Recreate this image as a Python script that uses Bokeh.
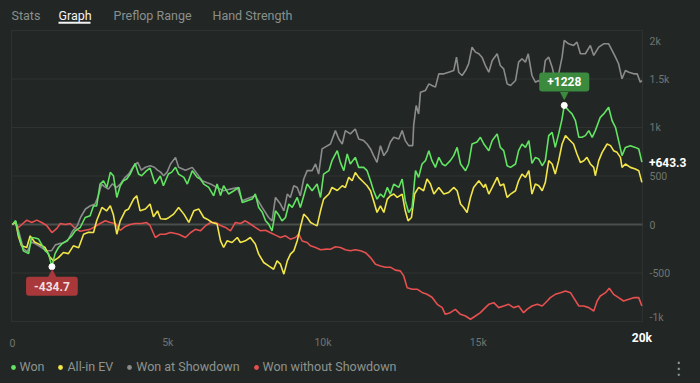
import numpy as np
from bokeh.plotting import figure
from bokeh.models import (Range1d, Label, Legend, LegendItem, BoxAnnotation, ColumnDataSource)
from bokeh.embed import file_html
from bokeh.resources import INLINE

# ---------------- data ----------------
tabs = ["Stats", "Graph", "Preflop Range", "Hand Strength"]
active_tab = "Graph"
series_names = ["Won", "All-in EV", "Won at Showdown", "Won without Showdown"]

y_ticks = [-1000, -500, 0, 500, 1000, 1500, 2000]
y_tick_labels = ["-1k", "-500", "0", "500", "1k", "1.5k", "2k"]
x_ticks = [0, 5000, 10000, 15000]
x_tick_labels = ["0", "5k", "10k", "15k"]
x_end_label = "20k"

won_hands = [0, 100, 190, 350, 520, 610, 730, 840, 930, 1050,
             1160, 1270, 1370, 1480, 1590, 1750, 1910, 2020, 2180, 2340,
             2500, 2610, 2710, 2820, 2930, 3040, 3150, 3250, 3360, 3470,
             3570, 3680, 3790, 3950, 4060, 4160, 4320, 4430, 4590, 4760,
             4860, 5020, 5130, 5250, 5350, 5520, 5630, 5790, 5950, 6050,
             6160, 6320, 6480, 6590, 6700, 6800, 6960, 7130, 7290, 7400,
             7560, 7720, 7820, 7930, 8040, 8150, 8250, 8360, 8470, 8570,
             8680, 8790, 8900, 9010, 9170, 9270, 9380, 9490, 9650, 9810,
             9920, 10020, 10190, 10290, 10460, 10560, 10670, 10780, 10880, 11040,
             11150, 11310, 11420, 11530, 11630, 11740, 11850, 11960, 12070, 12170,
             12280, 12440, 12550, 12650, 12760, 12870, 12980, 13080, 13190, 13300,
             13410, 13510, 13620, 13730, 13840, 13940, 14100, 14210, 14320, 14430,
             14590, 14690, 14800, 14960, 15070, 15180, 15340, 15450, 15610, 15710,
             15820, 15930, 16040, 16200, 16300, 16410, 16520, 16630, 16730, 16840,
             16950, 17060, 17160, 17270, 17380, 17480, 17590, 17700, 17770, 17910,
             18020, 18130, 18240, 18340, 18450, 18560, 18670, 18770, 18930, 19040,
             19200, 19310, 19420, 19520, 19630, 19740, 19900, 20060, 20170, 20270]
won_vals = [0, 40, -96, -272, -300, -134, -140, -150, -200, -270,
            -300, -434.7, -300, -237, -200, -168, -117, -65, -31, 72,
            90, 193, 190, 417, 451, 382, 537, 503, 279, 400,
            451, 469, 520, 630, 520, 503, 555, 580, 420, 500,
            400, 520, 540, 589, 520, 486, 417, 555, 486, 469,
            417, 382, 296, 417, 300, 400, 314, 348, 382, 227,
            245, 262, 314, 176, 130, 38, 4, -65, 141, 100,
            38, 70, 211, 176, 279, 176, 296, 417, 348, 417,
            279, 520, 555, 658, 761, 640, 555, 727, 624, 692,
            589, 589, 555, 451, 348, 262, 314, 280, 382, 314,
            417, 382, 469, 245, 124, 176, 555, 486, 624, 658,
            761, 658, 589, 692, 624, 606, 658, 710, 795, 624,
            555, 624, 830, 850, 899, 830, 760, 865, 934, 795,
            761, 606, 589, 624, 761, 830, 795, 865, 630, 692,
            675, 606, 658, 916, 950, 795, 934, 1089, 1228, 1175,
            1140, 1071, 899, 899, 916, 968, 899, 968, 1105, 1140,
            1209, 1071, 1002, 865, 710, 795, 812, 795, 778, 643.3]

ev_hands = [0, 100, 190, 290, 460, 570, 710, 840, 1050, 1190,
            1320, 1480, 1640, 1800, 1960, 2130, 2290, 2450, 2610, 2710,
            2880, 3030, 3150, 3250, 3360, 3470, 3630, 3740, 3900, 4000,
            4110, 4280, 4430, 4540, 4670, 4770, 4930, 5030, 5190, 5350,
            5520, 5680, 5840, 6000, 6160, 6270, 6430, 6590, 6700, 6800,
            6910, 7070, 7240, 7340, 7500, 7660, 7820, 7930, 8090, 8250,
            8410, 8520, 8630, 8740, 8850, 8950, 9060, 9170, 9270, 9380,
            9490, 9600, 9700, 9810, 9920, 10020, 10190, 10290, 10460, 10620,
            10720, 10830, 10940, 11040, 11150, 11260, 11420, 11530, 11630, 11740,
            11850, 11960, 12070, 12170, 12280, 12390, 12550, 12650, 12740, 12850,
            12950, 13080, 13240, 13350, 13460, 13570, 13730, 13890, 14050, 14210,
            14320, 14430, 14530, 14640, 14750, 14850, 15020, 15180, 15230, 15340,
            15450, 15610, 15710, 15820, 15930, 16040, 16200, 16300, 16410, 16520,
            16630, 16730, 16840, 16950, 17060, 17160, 17270, 17380, 17480, 17590,
            17700, 17810, 17910, 18070, 18180, 18290, 18400, 18500, 18610, 18720,
            18770, 18880, 18990, 19150, 19260, 19360, 19470, 19580, 19630, 19740,
            19900, 20060, 20170, 20270]
ev_vals = [0, 30, -120, -220, -237, -117, -180, -200, -237, -330,
           -375, -341, -289, -300, -220, -240, -100, -80, -83, 38,
           176, 140, 193, 100, -100, 38, 141, 160, 262, 296,
           141, 160, 211, 80, 140, 60, 55, 70, 107, 176,
           107, 21, 141, 159, 72, 55, 21, 4, -168, -237,
           -168, -186, -134, -186, -168, -134, -200, -306, -392, -427,
           -461, -375, -409, -512, -375, -306, -272, -168, -31, 107,
           72, 21, 4, -14, 141, 262, 314, 382, 350, 400,
           382, 486, 451, 537, 486, 451, 400, 348, 245, 124,
           193, 124, 262, 296, 314, 279, 314, 141, 38, 72,
           314, 382, 348, 469, 417, 314, 382, 314, 331, 382,
           348, 211, 176, 124, 279, 382, 451, 382, 417, 314,
           382, 486, 400, 417, 279, 314, 348, 451, 520, 486,
           555, 314, 417, 400, 348, 434, 658, 624, 520, 658,
           830, 916, 882, 830, 727, 640, 658, 692, 624, 589,
           503, 658, 744, 830, 813, 761, 744, 692, 589, 624,
           589, 572, 555, 434]

sd_hands = [0, 100, 190, 350, 480, 610, 740, 900, 1030, 1130,
            1260, 1380, 1480, 1610, 1770, 1930, 2090, 2190, 2350, 2510,
            2660, 2770, 2870, 2960, 3090, 3220, 3350, 3480, 3610, 3740,
            3900, 4030, 4150, 4280, 4440, 4570, 4670, 4770, 4870, 4980,
            5090, 5250, 5350, 5570, 5790, 5950, 6110, 6270, 6380, 6590,
            6800, 7020, 7240, 7400, 7600, 7820, 8040, 8250, 8360, 8470,
            8630, 8740, 8850, 8950, 9060, 9170, 9270, 9380, 9490, 9650,
            9760, 9860, 9970, 10080, 10240, 10400, 10510, 10620, 10720, 10880,
            11040, 11150, 11310, 11420, 11530, 11630, 11740, 11850, 11960, 12070,
            12170, 12280, 12440, 12550, 12650, 12760, 12890, 12920, 13000, 13080,
            13140, 13300, 13410, 13510, 13620, 13730, 13890, 14050, 14210, 14300,
            14370, 14480, 14590, 14690, 14800, 14910, 15020, 15120, 15230, 15340,
            15450, 15610, 15710, 15820, 15930, 16040, 16200, 16300, 16410, 16520,
            16610, 16730, 16840, 16950, 17060, 17160, 17270, 17380, 17480, 17590,
            17700, 17770, 17910, 18070, 18180, 18290, 18450, 18610, 18720, 18880,
            19040, 19200, 19310, 19420, 19520, 19630, 19740, 19850, 20010, 20120,
            20220, 20270]
sd_vals = [0, 30, -60, -250, -280, -180, -200, -230, -260, -270,
           -270, -210, -200, -190, -170, -70, -10, 72, 160, 193,
           211, 300, 417, 390, 365, 420, 380, 420, 480, 520,
           600, 640, 560, 590, 606, 590, 560, 540, 503, 540,
           624, 692, 590, 560, 589, 520, 451, 430, 417, 380,
           348, 365, 380, 245, 270, 296, 176, 72, 38, 279,
           211, 141, 314, 279, 400, 382, 296, 469, 555, 555,
           624, 520, 779, 800, 830, 968, 882, 830, 968, 934,
           985, 882, 865, 830, 779, 710, 640, 813, 710, 761,
           850, 899, 882, 968, 865, 813, 813, 1020, 1226, 1140,
           1364, 1382, 1450, 1433, 1416, 1553, 1553, 1570, 1587, 1725,
           1570, 1536, 1587, 1656, 1828, 1777, 1760, 1725, 1639, 1570,
           1691, 1760, 1639, 1605, 1450, 1433, 1484, 1674, 1709, 1674,
           1760, 1536, 1467, 1484, 1450, 1691, 1725, 1622, 1484, 1553,
           1725, 1898, 1863, 1846, 1880, 1760, 1760, 1846, 1743, 1828,
           1863, 1863, 1794, 1725, 1657, 1502, 1587, 1570, 1553, 1553,
           1467, 1484]

nsd_hands = [0, 90, 190, 300, 460, 620, 780, 940, 1100, 1270,
             1430, 1540, 1700, 1860, 2020, 2180, 2340, 2500, 2660, 2820,
             2990, 3150, 3310, 3470, 3630, 3790, 3950, 4160, 4320, 4430,
             4600, 4760, 4920, 5080, 5140, 5350, 5570, 5730, 5890, 6050,
             6210, 6380, 6540, 6700, 6860, 7020, 7180, 7340, 7500, 7660,
             7820, 7990, 8150, 8310, 8520, 8630, 8790, 8950, 9110, 9220,
             9330, 9490, 9600, 9760, 9920, 10130, 10240, 10400, 10560, 10720,
             10880, 11040, 11210, 11370, 11530, 11690, 11850, 12010, 12170, 12330,
             12490, 12600, 12710, 12870, 13030, 13190, 13350, 13510, 13680, 13840,
             13940, 14100, 14260, 14430, 14590, 14750, 14910, 15070, 15230, 15340,
             15500, 15660, 15820, 15980, 16140, 16300, 16460, 16570, 16730, 16900,
             17060, 17220, 17320, 17480, 17650, 17810, 17970, 18070, 18240, 18400,
             18560, 18720, 18830, 18930, 19100, 19220, 19360, 19520, 19680, 19850,
             20010, 20170, 20270]
nsd_vals = [0, 21, -31, 0, 45, 20, 45, 20, -10, -83,
            -40, 10, 0, 10, -40, -70, -60, -50, -20, 10,
            38, 20, 10, -60, -20, 0, 10, 10, 20, -10,
            -134, -100, -100, -83, -85, -100, -134, -85, -50, -65,
            -15, 21, 21, -10, -30, -65, 21, 10, 38, 5,
            -30, -65, -60, -85, -117, -134, -117, -151, -134, -100,
            -170, -186, -220, -237, -260, -254, -255, -230, -237, -260,
            -270, -260, -270, -290, -341, -409, -427, -440, -440, -470,
            -478, -530, -651, -667, -667, -700, -719, -750, -823, -857,
            -926, -909, -875, -926, -943, -977, -943, -909, -857, -823,
            -806, -857, -840, -823, -857, -840, -909, -875, -840, -823,
            -840, -789, -754, -720, -703, -685, -703, -754, -840, -840,
            -857, -892, -789, -737, -703, -657, -720, -754, -789, -771,
            -754, -754, -840]

# ---------------- layout & styles ----------------
W, H = 700, 383
PLOT_L, PLOT_R, PLOT_T, PLOT_B = 11, 642, 30, 321      # pixel box of the plot area
HAND_LO, HAND_HI = -32, 20290                          # hands at the plot-area edges
VAL_LO, VAL_HI = y_ticks[0], y_ticks[-1]
kx = (HAND_HI - HAND_LO) / (PLOT_R - PLOT_L)
ky = (VAL_HI - VAL_LO) / (PLOT_B - PLOT_T)

BG = "#222725"
GRID = "#2e3331"
ZERO = "#4a4f4c"
TICK = "#6f7471"
MUTED = "#8e9390"
FONT = "Roboto"
COLORS = ["#62e462", "#f2e54a", "#8b8b8b", "#e65050"]
GREEN_BOX = "#3b8a3e"
RED_BOX = "#a8383a"

p = figure(width=W, height=H, output_backend="svg", toolbar_location=None, title=None,
           x_range=Range1d(HAND_LO - PLOT_L * kx, HAND_HI + (W - PLOT_R) * kx),
           y_range=Range1d(VAL_LO - (H - PLOT_B) * ky, VAL_HI + PLOT_T * ky),
           x_axis_location=None, y_axis_location=None,
           min_border=0, background_fill_color=BG, border_fill_color=BG,
           outline_line_color=None)
p.grid.visible = False

# grid lines and plot-area frame
grid_src = ColumnDataSource(dict(y=[t for t in y_ticks if t != 0]))
p.segment(x0=HAND_LO, x1=HAND_HI, y0="y", y1="y", source=grid_src, line_color=GRID, line_width=1)
p.segment(x0=[HAND_LO, HAND_HI], x1=[HAND_LO, HAND_HI], y0=VAL_LO, y1=VAL_HI,
          line_color=GRID, line_width=1)
p.segment(x0=HAND_LO, x1=HAND_HI, y0=0, y1=0, line_color=ZERO, line_width=2)

# value axis labels (right side)
ylab_src = ColumnDataSource(dict(y=y_ticks, text=y_tick_labels,
                                 dy=[-4 if t == y_ticks[0] else (11 if t == y_ticks[-1] else 0) for t in y_ticks]))
p.text(x=HAND_HI, y="y", text="text", y_offset="dy", x_offset=7, source=ylab_src,
       text_align="left", text_baseline="middle", text_color=TICK,
       text_font={"value": FONT}, text_font_size="10.5px")

# hands axis labels (bottom)
xlab_src = ColumnDataSource(dict(x=x_ticks, text=x_tick_labels))
p.text(x="x", y=VAL_LO, text="text", y_offset=21, source=xlab_src,
       text_align="center", text_baseline="alphabetic", text_color=TICK,
       text_font={"value": FONT}, text_font_size="10.5px")

# series lines
series = [(nsd_hands, nsd_vals, COLORS[3]), (sd_hands, sd_vals, COLORS[2]),
          (ev_hands, ev_vals, COLORS[1]), (won_hands, won_vals, COLORS[0])]
for h, v, c in series:
    p.line(x="h", y="v", source=ColumnDataSource(dict(h=h, v=v)), line_color=c, line_width=1.6)

# extreme markers and callouts
i_max = int(np.argmax(won_vals))
i_min = int(np.argmin(won_vals))
p.scatter(x=[won_hands[i_max], won_hands[i_min]], y=[won_vals[i_max], won_vals[i_min]],
          size=6, fill_color="white", line_color="white")

p.add_layout(Label(x=won_hands[i_max], y=won_vals[i_max], y_offset=9.5, text="\u25bc",
                   text_align="center", text_baseline="middle", text_color=GREEN_BOX,
                   text_font="DejaVu Sans", text_font_size="11px"))
p.add_layout(Label(x=won_hands[i_max], y=won_vals[i_max], y_offset=23.5,
                   text=f"{won_vals[i_max]:+g}", text_align="center", text_baseline="middle",
                   text_color="white", text_font=FONT, text_font_style="bold", text_font_size="12px",
                   background_fill_color=GREEN_BOX, padding=(8, 5), border_radius=3))
p.add_layout(Label(x=won_hands[i_min], y=won_vals[i_min], y_offset=-5.5, text="\u25b2",
                   text_align="center", text_baseline="middle", text_color=RED_BOX,
                   text_font="DejaVu Sans", text_font_size="11px"))
p.add_layout(Label(x=won_hands[i_min], y=won_vals[i_min], y_offset=-19.5,
                   text=f"{won_vals[i_min]:+g}", text_align="center", text_baseline="middle",
                   text_color="#f3dede", text_font=FONT, text_font_style="bold", text_font_size="12px",
                   background_fill_color=RED_BOX, padding=(8, 5), border_radius=3))

# current value and end-of-axis label
p.add_layout(Label(x=won_hands[-1], y=won_vals[-1], x_offset=7, text=f"{won_vals[-1]:+g}",
                   text_align="left", text_baseline="middle", text_color="white",
                   text_font=FONT, text_font_style="bold", text_font_size="12px"))
p.add_layout(Label(x=won_hands[-1], y=VAL_LO, y_offset=-16, text=x_end_label,
                   text_align="center", text_baseline="middle", text_color="white",
                   text_font=FONT, text_font_style="bold", text_font_size="12px"))

# tab bar
tab_x = [11, 58, 113, 212]
for name, tx in zip(tabs, tab_x):
    active = name == active_tab
    p.add_layout(Label(x=tx, y=H - 15, x_units="screen", y_units="screen", text=name,
                       text_align="left", text_baseline="alphabetic",
                       text_color="#f4f4f4" if active else "#8a8f8c",
                       text_font=FONT, text_font_size="12.5px"))
p.add_layout(BoxAnnotation(left=58, right=90, bottom=H - 23.3, top=H - 21.3,
                           left_units="screen", right_units="screen",
                           bottom_units="screen", top_units="screen",
                           fill_color="#f2f2f2", fill_alpha=1, line_color=None))

# legend: dot glyphs (size 0 on the chart itself, the legend draws its own dot)
items = []
for name, c, (h, v, _) in zip(series_names, COLORS, series[::-1]):
    r = p.scatter(x=h[:1], y=v[:1], size=0, fill_color=c, line_color=None)
    items.append(LegendItem(label=name, renderers=[r]))
legend = Legend(items=items, orientation="horizontal", location=(6.5, 9),
                background_fill_alpha=0, border_line_color=None, padding=0, margin=0,
                spacing=10, glyph_width=12, glyph_height=12, label_standoff=1,
                label_height=12, label_text_color=MUTED, label_text_font=FONT,
                label_text_font_size="12.5px")
p.add_layout(legend)

# kebab menu
p.add_layout(Label(x=678, y=H - 367, x_units="screen", y_units="screen", text="\u22ee",
                   text_align="center", text_baseline="middle", text_color="#9a9e9c",
                   text_font="DejaVu Sans", text_font_size="17px"))

html = file_html(p, INLINE, title="Graph")
html = html.replace("<head>", "<head><style>html,body{background:#222725;}</style>", 1)
open("out.html", "w").write(html)
